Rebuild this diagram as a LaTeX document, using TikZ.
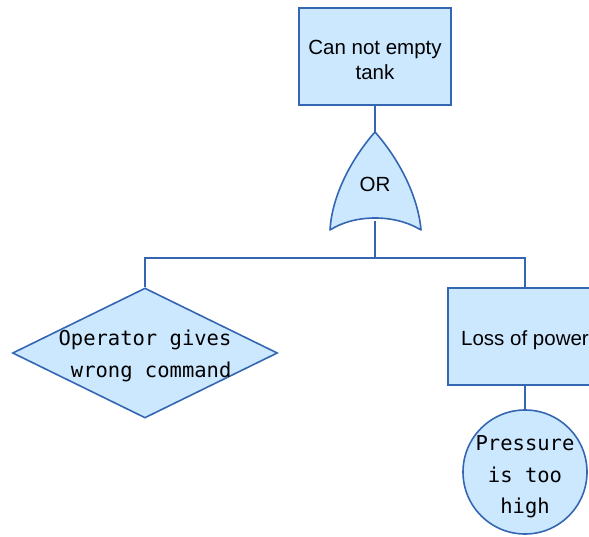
\documentclass[tikz,border=0pt]{standalone}
\usepackage{fontspec}
\setmainfont{Liberation Sans}
\newfontfamily\monofont{DejaVu Sans Mono}
\usetikzlibrary{shapes.geometric}
\definecolor{evfill}{RGB}{204,232,255}
\definecolor{evline}{RGB}{52,102,178}

\begin{document}
\begin{tikzpicture}[x=1pt,y=-1pt,
  shapebase/.style={draw=evline, fill=evfill, line width=1.6pt, inner sep=0pt},
  sanstext/.style={align=center, inner sep=0pt,
    font=\fontsize{20.5}{25}\selectfont},
  monotext/.style={align=center, inner sep=0pt,
    font=\monofont\fontsize{20.5}{31.5}\selectfont},
  link/.style={draw=evline, line width=1.6pt}
]
\useasboundingbox (0,0) rectangle (589,537);
\clip (0,0) rectangle (589,537);

% top event
\node[shapebase, rectangle, minimum width=152pt, minimum height=97pt] (top) at (375,56.5) {};
\node[sanstext] (toptext) at (375,60) {Can not empty\\tank};

% OR gate
\coordinate (gtop) at (375,132);
\coordinate (gbot) at (375,221);
\filldraw[draw=evline, fill=evfill, line width=1.6pt, line join=round]
  (gtop) .. controls (352,158) and (332,195) .. (330,230)
  .. controls (355,214) and (395,214) .. (421,230)
  .. controls (418,195) and (398,158) .. (gtop) -- cycle;
\node[sanstext] (or) at (375,184) {OR};

% basic event (diamond)
\node[shapebase, diamond, minimum width=265pt, minimum height=130pt] (diam) at (145,353) {};
\node[monotext] (diamtext) at (145,356) {Operator gives\\\hphantom{x}wrong command};

% intermediate event
\node[shapebase, rectangle, minimum width=154pt, minimum height=97pt] (loss) at (525,336.5) {};
\node[sanstext] (losstext) at (525,340) {Loss of power};

% basic event (circle)
\node[shapebase, circle, minimum size=124pt] (press) at (525,472) {};
\node[monotext] (presstext) at (525,477) {Pressure\\is too\\high};

% connectors
\coordinate (bar) at (375,258);
\draw[link] (top.south) -- (gtop);
\draw[link] (gbot) -- (bar);
\draw[link] (diam.north) |- (bar) -| (loss.north);
\draw[link] (loss.south) -- (press.north);
\end{tikzpicture}
\end{document}
